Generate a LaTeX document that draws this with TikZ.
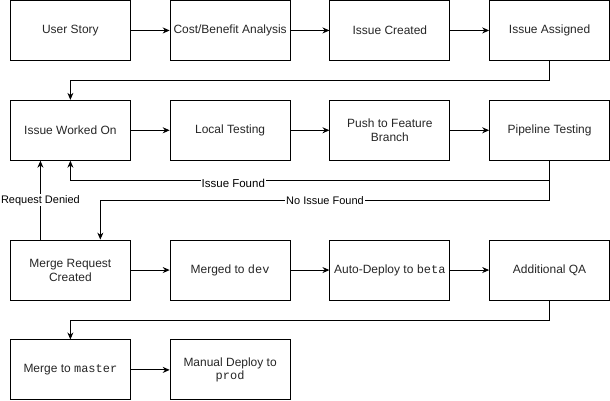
\documentclass[tikz,border=0pt]{standalone}
\usepackage{fontspec}
\setmainfont{Liberation Sans}
\setmonofont{Liberation Mono}
\usetikzlibrary{arrows.meta}
\begin{document}
\begin{tikzpicture}[
    x=1pt, y=-1pt,
    box/.style={rectangle, draw, line width=1pt, minimum width=120pt, minimum height=60pt, align=center, text=black!85, font=\fontsize{12}{14}\selectfont},
    arrow/.style={-{Stealth[length=7pt,width=6pt]}, line width=1pt},
    lbl/.style={fill=white, inner sep=1pt, font=\fontsize{11}{13}\selectfont}
]
    \useasboundingbox (-0.5,-0.5) rectangle (610.5,401);
    \node[box] (story) at (70,30) {User Story};
    \node[box] (costben) at (230,30) {Cost/Benefit Analysis};
    \node[box] (created) at (390,30) {Issue Created};
    \node[box] (assigned) at (550,30) {Issue Assigned};

    \node[box] (worked) at (70,130) {Issue Worked On};
    \node[box] (local) at (230,130) {Local Testing};
    \node[box] (push) at (390,130) {Push to Feature\\Branch};
    \node[box] (pipeline) at (550,130) {Pipeline Testing};

    \node[box] (mrc) at (70,270) {Merge Request\\Created};
    \node[box] (dev) at (230,270) {Merged to \texttt{dev}};
    \node[box] (beta) at (390,270) {Auto-Deploy to \texttt{beta}};
    \node[box] (qa) at (550,270) {Additional QA};

    \node[box] (master) at (70,370) {Merge to \texttt{master}};
    \node[box] (prod) at (230,370) {Manual Deploy to\\\texttt{prod}};

    \draw[arrow] (story) -- (costben);
    \draw[arrow] (costben) -- (created);
    \draw[arrow] (created) -- (assigned);
    \draw[arrow] (assigned.south) -- ++(0,20) -| (worked.north);

    \draw[arrow] (worked) -- (local);
    \draw[arrow] (local) -- (push);
    \draw[arrow] (push) -- (pipeline);
    \draw[arrow] (pipeline.south) -- ++(0,20) -| node[pos=0.33, lbl, yshift=-3pt, font=\fontsize{11.5}{13}\selectfont] {Issue Found} (worked.south);
    \draw[arrow] (pipeline.south) -- ++(0,40) -| node[pos=0.25, lbl] {No Issue Found} ([xshift=30pt]mrc.north);
    \draw[arrow] ([xshift=-30pt]mrc.north) -- node[lbl] {Request Denied} ([xshift=-30pt]worked.south);

    \draw[arrow] (mrc) -- (dev);
    \draw[arrow] (dev) -- (beta);
    \draw[arrow] (beta) -- (qa);
    \draw[arrow] (qa.south) -- ++(0,20) -| (master.north);

    \draw[arrow] (master) -- (prod);
\end{tikzpicture}
\end{document}
